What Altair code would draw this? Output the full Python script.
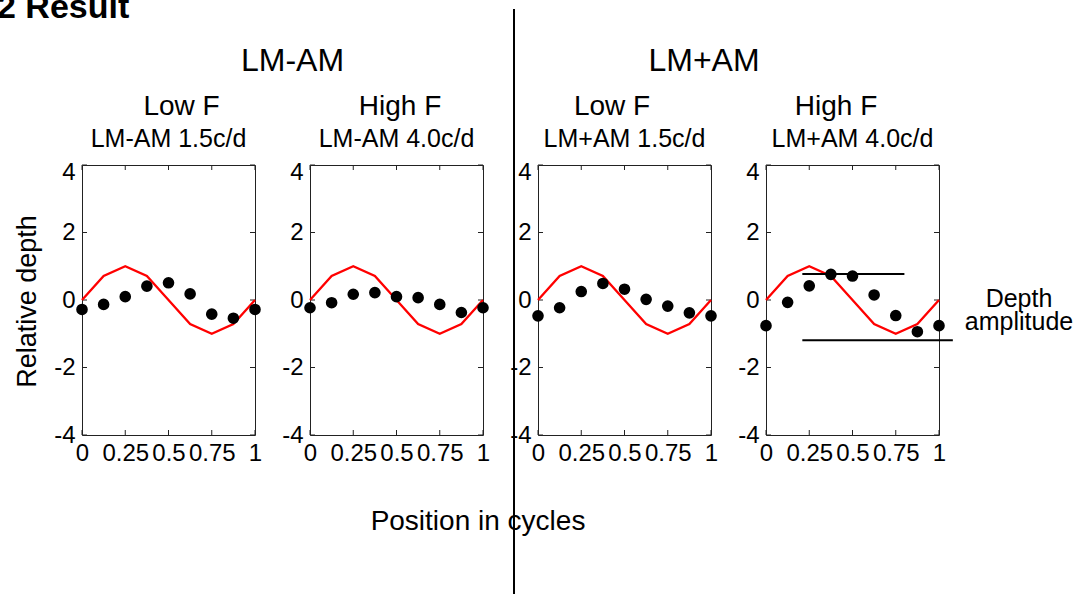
import altair as alt
import pandas as pd

# Sample positions within one cycle of the depth modulation
positions = [0, 0.125, 0.25, 0.375, 0.5, 0.625, 0.75, 0.875, 1]

# Physical (model) depth profile, drawn in red
model_depth = [0, 0.71, 1, 0.71, 0, -0.71, -1, -0.71, 0]

# Perceived relative depth for each condition
lm_am_low = [-0.28, -0.13, 0.10, 0.41, 0.51, 0.18, -0.42, -0.54, -0.28]
lm_am_high = [-0.23, -0.08, 0.17, 0.22, 0.10, 0.07, -0.13, -0.37, -0.23]
lm_pam_low = [-0.47, -0.23, 0.25, 0.49, 0.32, 0.02, -0.18, -0.38, -0.47]
lm_pam_high = [-0.76, -0.07, 0.42, 0.76, 0.71, 0.15, -0.46, -0.94, -0.76]

# Depth-amplitude guide lines (level, start, end)
amp_level = [0.77, -1.19]
amp_start = [0.21, 0.21]
amp_end = [0.80, 1.08]

x_ticks = [0, 0.25, 0.5, 0.75, 1]
y_ticks = [-4, -2, 0, 2, 4]

W, H = 173, 270
FONT = "Liberation Sans"
FRAME = "#222222"

xs = alt.Scale(domain=[0, 1], nice=False, zero=False)
ys = alt.Scale(domain=[-4, 4], nice=False, zero=False)

x_axis = alt.Axis(
    values=x_ticks, labelExpr="'' + datum.value", ticks=False, tickSize=0,
    domain=False, grid=False, labelFlush=False, labelOverlap=False,
    labelPadding=6, labelFontSize=24, labelFont=FONT, labelColor="black",
    title=None,
)
y_axis = alt.Axis(
    values=y_ticks, labelExpr="'' + datum.value", ticks=False, tickSize=0,
    domain=False, grid=False, labelFlush=False, labelOverlap=False,
    labelPadding=7, labelFontSize=24, labelFont=FONT, labelColor="black",
    labelBaseline="middle",
    labelOffset={"condition": {"test": "datum.value == 4", "value": 7}, "value": 0},
    title=None,
)


def label(text, x, y, size, **kw):
    return alt.Chart(pd.DataFrame({"label": [text]})).mark_text(
        font=FONT, fontSize=size, color="black", **kw
    ).encode(text="label:N", x=alt.value(x), y=alt.value(y))


def panel(values, heading, heading_x, caption, extra=()):
    df = pd.DataFrame({"pos": positions, "depth": values, "model": model_depth})
    base = alt.Chart(df)
    x = alt.X("pos:Q", scale=xs, axis=x_axis)

    model = base.mark_line(color="#ff0000", strokeWidth=2.3).encode(
        x=x, y=alt.Y("model:Q", scale=ys, axis=y_axis)
    )
    dots = base.mark_circle(size=135, color="black", opacity=1).encode(
        x=x, y=alt.Y("depth:Q", scale=ys, axis=y_axis)
    )

    # inward tick marks on all four sides of the box
    yt = alt.Chart(pd.DataFrame({"tick": y_ticks}))
    ty = alt.Y("tick:Q", scale=ys, axis=y_axis)
    left = yt.mark_rule(color=FRAME).encode(y=ty, x=alt.value(0), x2=alt.value(5))
    right = yt.mark_rule(color=FRAME).encode(y=ty, x=alt.value(W - 5), x2=alt.value(W))
    xt = alt.Chart(pd.DataFrame({"tick": x_ticks}))
    tx = alt.X("tick:Q", scale=xs, axis=x_axis)
    bottom = xt.mark_rule(color=FRAME).encode(x=tx, y=alt.value(H), y2=alt.value(H - 5))
    top = xt.mark_rule(color=FRAME).encode(x=tx, y=alt.value(0), y2=alt.value(5))

    head = label(heading, heading_x, -50, 28, align="center", baseline="alphabetic")
    cap = label(caption, W / 2, -18, 25, align="center", baseline="alphabetic")

    layers = [left, right, bottom, top, model, dots, head, cap] + list(extra)
    return alt.layer(*layers).properties(width=W, height=H)


one_row = pd.DataFrame({"k": [0]})

p1_extra = [
    label("2 Result", -85, -147, 34, align="left", baseline="alphabetic", fontWeight="bold"),
    label("LM-AM", 210.5, -94, 32, align="center", baseline="alphabetic"),
    label("Relative depth", -54, 136.5, 27, align="center", baseline="middle", angle=270),
    label("Position in cycles", 396, 365, 28, align="center", baseline="alphabetic"),
]

divider = alt.Chart(one_row).mark_rule(color="black", strokeWidth=2).encode(
    x=alt.value(-24), y=alt.value(-156), y2=alt.value(440)
)
p3_extra = [
    divider,
    label("LM+AM", 166, -94, 32, align="center", baseline="alphabetic"),
]

amp_df = pd.DataFrame({"level": amp_level, "start": amp_start, "end": amp_end})
amp_lines = alt.Chart(amp_df).mark_rule(color="black", strokeWidth=2).encode(
    x=alt.X("start:Q", scale=xs, axis=x_axis),
    x2="end:Q",
    y=alt.Y("level:Q", scale=ys, axis=y_axis),
)
p4_extra = [
    amp_lines,
    label("Depth", 253, 142, 25, align="center", baseline="alphabetic"),
    label("amplitude", 253, 165, 25, align="center", baseline="alphabetic"),
]

p1 = panel(lm_am_low, "Low F", 99.5, "LM-AM 1.5c/d", p1_extra)
p2 = panel(lm_am_high, "High F", 90, "LM-AM 4.0c/d")
p3 = panel(lm_pam_low, "Low F", 74, "LM+AM 1.5c/d", p3_extra)
p4 = panel(lm_pam_high, "High F", 70, "LM+AM 4.0c/d", p4_extra)

chart = (
    alt.hconcat(p1, p2, p3, p4, spacing=55, bounds="flush")
    .properties(
        autosize=alt.AutoSizeParams(type="none"),
        padding={"left": 82, "top": 165, "right": 993, "bottom": 429},
    )
    .configure(background="white")
    .configure_view(stroke=FRAME, strokeWidth=1)
)

chart.save("out.html", embed_options={"renderer": "svg", "actions": False})
